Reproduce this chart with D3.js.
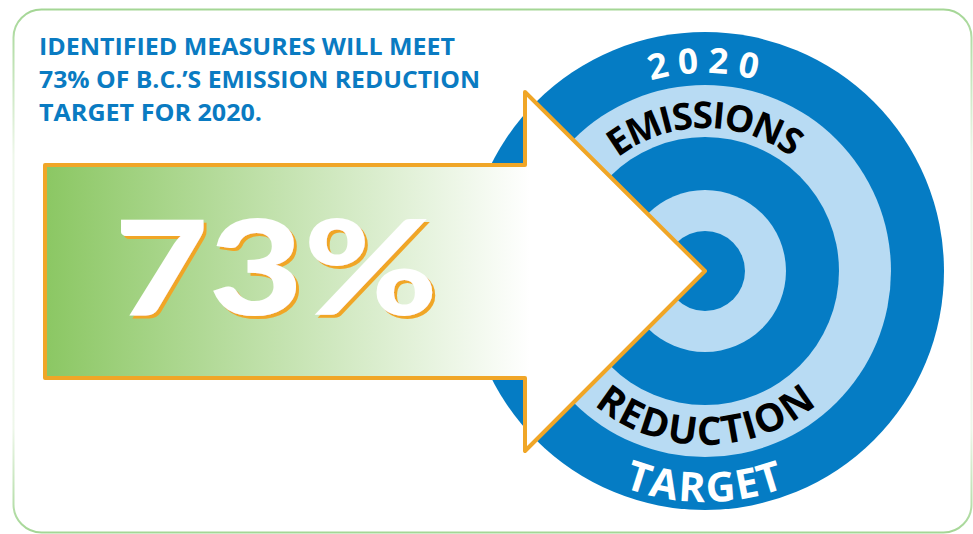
<!DOCTYPE html>
<html>
<head>
<meta charset="utf-8">
<script src="https://cdn.jsdelivr.net/npm/d3@7"></script>
<style>
  html, body { margin: 0; padding: 0; background: #fff; }
</style>
</head>
<body>
<div id="chart"></div>
<script>
// values
const headingLines = ['IDENTIFIED MEASURES WILL MEET', '73% OF B.C.’S EMISSION REDUCTION', 'TARGET FOR 2020.']
const percentValue = 73
const topLabels = ['2020', 'EMISSIONS']
const bottomLabels = ['REDUCTION', 'TARGET']

const width = 973,
      height = 534
const FONT = '"Open Sans", "DejaVu Sans", sans-serif'
const blue = '#057cc4',
      lightBlue = '#b8dbf3',
      orange = '#f0a627',
      green = '#8bc763'

// target layout
const cx = 705, cy = 271
const ringRadii = [239, 186, 134, 81, 40]

const svg = d3.select('#chart').append('svg')
              .attr('width', width)
              .attr('height', height)

const defs = svg.append('defs')

// border gradient, green at top & bottom, fading on the sides
const bg = defs.append('linearGradient')
               .attr('id', 'borderGrad')
               .attr('gradientUnits', 'userSpaceOnUse')
               .attr('x1', 0).attr('y1', 9).attr('x2', 0).attr('y2', 533)
bg.selectAll('stop')
  .data([[0, '#a4d695'], [0.28, '#eef7ea'], [0.8, '#eef7ea'], [1, '#a4d695']]).enter()
  .append('stop')
  .attr('offset', d => d[0])
  .attr('stop-color', d => d[1])

svg.append('rect')
   .attr('x', 13.5).attr('y', 9.5)
   .attr('width', 958).attr('height', 523)
   .attr('rx', 28)
   .attr('fill', 'none')
   .attr('stroke', 'url(#borderGrad)')
   .attr('stroke-width', 2)

// heading
const lineX = [416, 441, 223]
svg.append('g')
   .attr('font-family', FONT)
   .attr('font-weight', 700)
   .attr('font-size', 24)
   .attr('fill', '#0a7bc2')
   .selectAll('text')
   .data(headingLines).enter()
   .append('text')
   .attr('x', 39)
   .attr('y', (d, i) => 55 + i * 33)
   .attr('textLength', (d, i) => lineX[i])
   .attr('lengthAdjust', 'spacingAndGlyphs')
   .text(d => d)

// target rings
svg.append('g')
   .selectAll('circle')
   .data(ringRadii).enter()
   .append('circle')
   .attr('cx', cx)
   .attr('cy', cy)
   .attr('r', d => d)
   .attr('fill', (d, i) => i % 2 ? lightBlue : blue)

// arrow
const grad = defs.append('linearGradient')
                 .attr('id', 'arrowGrad')
                 .attr('gradientUnits', 'userSpaceOnUse')
                 .attr('x1', 45).attr('y1', 0).attr('x2', 530).attr('y2', 0)
grad.append('stop').attr('offset', 0).attr('stop-color', green)
grad.append('stop').attr('offset', 1).attr('stop-color', '#ffffff')

const bodyTop = 165, bodyBot = 378, neck = 525, headTop = 92, headBot = 451, tail = 45
const arrowPts = [
  [tail, bodyTop], [neck, bodyTop], [neck, headTop], [cx, cy],
  [neck, headBot], [neck, bodyBot], [tail, bodyBot]
]
svg.append('path')
   .attr('d', d3.line()(arrowPts) + 'Z')
   .attr('fill', 'url(#arrowGrad)')
   .attr('stroke', orange)
   .attr('stroke-width', 4)
   .attr('stroke-linejoin', 'round')

// orange offset shadow under the big number
const shadow = defs.append('filter')
                   .attr('id', 'orangeShadow')
                   .attr('x', '-5%').attr('y', '-5%')
                   .attr('width', '110%').attr('height', '115%')
shadow.append('feFlood').attr('flood-color', orange).attr('result', 'c')
shadow.append('feComposite').attr('in', 'c').attr('in2', 'SourceAlpha')
      .attr('operator', 'in').attr('result', 'sh')
shadow.append('feOffset').attr('in', 'sh').attr('dx', 3).attr('dy', 3).attr('result', 'off')
const merge = shadow.append('feMerge')
merge.append('feMergeNode').attr('in', 'off')
merge.append('feMergeNode').attr('in', 'SourceGraphic')

svg.append('text')
   .attr('x', 114)
   .attr('y', 315)
   .attr('font-family', 'Lato, "Open Sans", sans-serif')
   .attr('font-weight', 900)
   .attr('font-size', 131)
   .attr('textLength', 324)
   .attr('lengthAdjust', 'spacingAndGlyphs')
   .attr('fill', '#fff')
   .attr('filter', 'url(#orangeShadow)')
   .text(percentValue + '%')

// letters placed one by one along an arc
function arcLabel (str, o) {
  const g = svg.append('g')
               .attr('font-family', FONT)
               .attr('font-weight', 700)
               .attr('font-size', o.size)
               .attr('fill', o.fill)
  const chars = Array.from(str)
  const widths = chars.map(ch => {
    const t = g.append('text').text(ch)
    const w = t.node().getComputedTextLength()
    t.remove()
    return w
  })
  let cum = 0
  const mids = widths.map(w => { const m = cum + w / 2; cum += w; return m })
  const ang = d3.scaleLinear()
                .domain([mids[0], mids[mids.length - 1]])
                .range([o.from, o.to])
  g.selectAll('text')
   .data(chars).enter()
   .append('text')
   .attr('text-anchor', 'middle')
   .attr('transform', (ch, i) => {
     const deg = ang(mids[i]), a = deg * Math.PI / 180
     const x = cx + o.r * Math.sin(a)
     const y = o.bottom ? cy + o.r * Math.cos(a) : cy - o.r * Math.cos(a)
     return `translate(${x},${y}) rotate(${o.bottom ? -deg : deg})`
   })
   .text(ch => ch)
}

arcLabel(topLabels[0], { r: 198, from: -13, to: 12, size: 35, fill: '#fff' })
arcLabel(topLabels[1], { r: 143, from: -33.5, to: 33.3, size: 37, fill: '#000' })
arcLabel(bottomLabels[0], { r: 174, from: -35.4, to: 34.8, size: 39, fill: '#000', bottom: true })
arcLabel(bottomLabels[1], { r: 231, from: -17.7, to: 17.3, size: 41, fill: '#fff', bottom: true })
</script>
</body>
</html>
